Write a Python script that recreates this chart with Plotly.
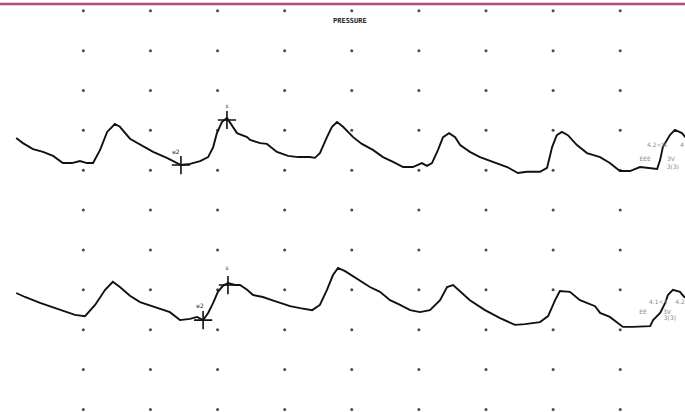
import numpy as np
import plotly.graph_objects as go

# ---- data (time in ms, amplitude in chart units) ----
top_t = [0, 20, 50, 80, 110, 139, 166, 190, 211, 229, 250, 271, 294, 309, 339, 369, 408, 449, 491, 518,
         548, 572, 587, 598, 613, 628, 637, 658, 688, 697, 727, 747, 777, 810, 840, 875, 890, 905, 926, 941,
         956, 974, 1004, 1030, 1063, 1093, 1123, 1153, 1182, 1209, 1224, 1239, 1257, 1272, 1290, 1308, 1323,
         1352, 1382, 1421, 1463, 1495, 1522, 1561, 1582, 1597, 1611, 1626, 1644, 1671, 1701, 1740, 1769, 1799,
         1829, 1859, 1880, 1910, 1919, 1927, 1948, 1963, 1984, 1996]
top_v = [68.1, 66.8, 65.3, 64.6, 63.6, 61.8, 61.8, 62.3, 61.8, 61.8, 65.1, 69.6, 71.6, 70.9, 67.9, 66.4,
         64.6, 63.1, 61.3, 61.6, 62.3, 63.3, 65.8, 69.3, 72.1, 73.1, 71.9, 69.3, 68.3, 67.6, 66.8, 66.6, 64.6,
         63.6, 63.3, 63.3, 63.1, 64.3, 68.3, 70.9, 72.1, 70.9, 68.3, 66.6, 65.1, 63.3, 62.1, 60.8, 60.8, 61.8,
         61.1, 61.8, 65.1, 68.3, 69.3, 68.3, 66.3, 64.6, 63.3, 62.1, 60.8, 59.3, 59.6, 59.6, 60.6, 65.8, 68.8,
         69.6, 68.8, 66.3, 64.3, 63.3, 61.8, 59.8, 59.8, 60.8, 60.6, 60.3, 62.6, 65.8, 68.8, 70.1, 69.3, 68.1]

bot_t = [0, 26, 71, 115, 145, 175, 205, 235, 265, 288, 309, 339, 369, 414, 458, 488, 518, 539, 557, 572,
         587, 601, 616, 631, 652, 667, 688, 706, 735, 762, 786, 816, 846, 882, 905, 926, 944, 959, 980, 1010,
         1054, 1084, 1114, 1144, 1174, 1203, 1233, 1263, 1284, 1302, 1323, 1352, 1397, 1442, 1486, 1516, 1561,
         1585, 1606, 1620, 1650, 1680, 1725, 1740, 1769, 1790, 1808, 1838, 1889, 1898, 1919, 1934, 1942, 1957,
         1978, 1993]
bot_v = [29.2, 28.2, 26.7, 25.4, 24.4, 23.7, 23.4, 26.2, 30.0, 32.0, 30.7, 28.5, 26.9, 25.7, 24.4, 22.4,
         22.7, 23.2, 22.4, 24.2, 26.7, 29.5, 31.0, 31.7, 31.2, 31.2, 30.0, 28.7, 28.2, 27.4, 26.7, 25.9, 25.4,
         24.9, 26.2, 30.0, 33.7, 35.5, 34.7, 33.0, 30.7, 29.5, 27.4, 26.2, 24.9, 24.4, 24.9, 27.4, 30.7, 31.2,
         29.5, 27.4, 24.9, 22.9, 21.2, 21.4, 21.9, 23.4, 27.4, 29.7, 29.5, 27.4, 25.9, 24.2, 23.2, 21.9, 20.7,
         20.7, 20.9, 22.4, 24.2, 26.7, 28.7, 30.0, 29.5, 28.0]

# cursor markers (e2 = end-diastole, s = systolic peak)
cursor_t = [491, 628, 557, 631]
cursor_v = [61.3, 72.6, 22.4, 31.2]
cursor_lbl = ["e2", "s", "e2", "s"]
cursor_lbl_t = [476, 628, 548, 628]
cursor_lbl_v = [64.5, 76.1, 25.9, 35.4]

# small readout labels at right side
read_txt = ["4.2<%", "4", "EEE", "3V", "3(3)", "4.1<4", "4.2", "EE", "3V", "3(3)"]
read_t = [1910, 1984, 1874, 1951, 1957, 1913, 1978, 1868, 1939, 1948]
read_v = [66.3, 66.3, 62.8, 62.6, 60.8, 26.7, 26.7, 24.2, 24.2, 22.7]

grid_t = [200, 400, 600, 800, 1000, 1200, 1400, 1600, 1800, 2000]
grid_v = [0, 10, 20, 30, 40, 50, 60, 70, 80, 90, 100]

title_text = "PRESSURE"

# ---- figure ----
fig = go.Figure()

gx, gy = np.meshgrid(grid_t, grid_v)
fig.add_trace(go.Scatter(x=gx.ravel(), y=gy.ravel(), mode="markers",
                         marker=dict(size=3, color="#4a4a4a"), hoverinfo="skip", showlegend=False))

for tt, vv in [(top_t, top_v), (bot_t, bot_v)]:
    fig.add_trace(go.Scatter(x=tt, y=vv, mode="lines",
                             line=dict(color="#111111", width=1.9, shape="linear"),
                             showlegend=False))

fig.add_trace(go.Scatter(x=cursor_t, y=cursor_v, mode="markers",
                         marker=dict(symbol="cross-thin", size=13, line=dict(color="#111111", width=1.6)),
                         showlegend=False))

fig.add_trace(go.Scatter(x=cursor_lbl_t, y=cursor_lbl_v, mode="text", text=cursor_lbl,
                         textfont=dict(size=6, color="#2a2040", family="DejaVu Sans"),
                         showlegend=False))

fig.add_trace(go.Scatter(x=read_t, y=read_v, mode="text", text=read_txt,
                         textfont=dict(size=6, color="#8a8a8a", family="DejaVu Sans"),
                         showlegend=False))

fig.add_shape(type="line", xref="paper", yref="paper", x0=0, x1=1, y0=0.990, y1=0.990,
              line=dict(color="#b04a7e", width=2.5))

fig.add_annotation(text="<b>" + title_text + "</b>", xref="paper", yref="paper", x=0.511, y=0.963,
                   showarrow=False, font=dict(size=7, color="#222222", family="DejaVu Sans Mono"))

fig.update_layout(width=685, height=412, margin=dict(l=0, r=0, t=0, b=0),
                  paper_bgcolor="white", plot_bgcolor="white", showlegend=False)
fig.update_xaxes(range=[-48.3, 1993], visible=False)
fig.update_yaxes(range=[-0.65, 102.7], visible=False)

fig.write_html("out.html")
